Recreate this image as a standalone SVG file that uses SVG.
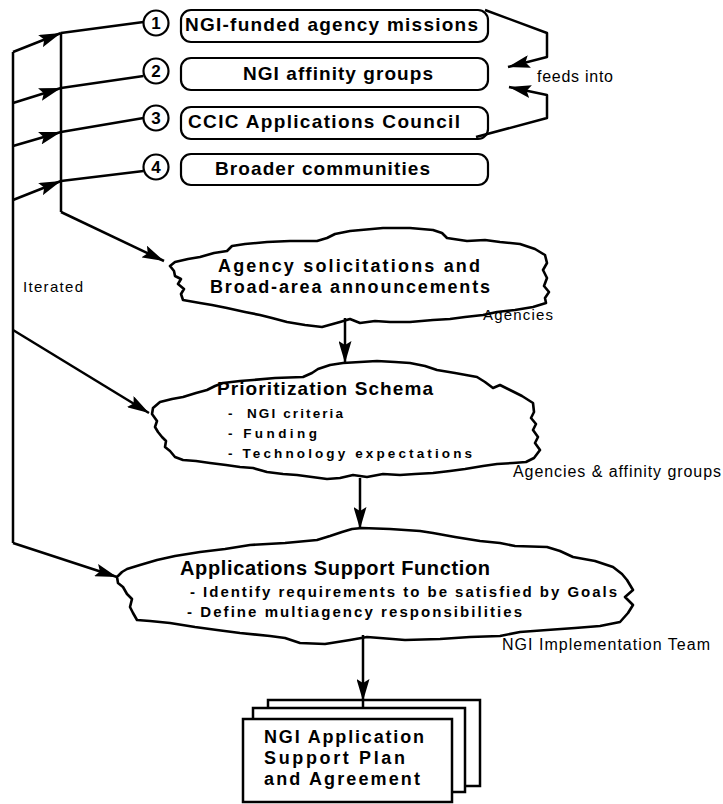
<svg xmlns="http://www.w3.org/2000/svg" width="723" height="804" viewBox="0 0 723 804">
<style>
.ln{fill:none;stroke:#000;stroke-width:2.5;stroke-linejoin:round}
.ar{marker-end:url(#ah)}
.box{fill:#fff;stroke:#000;stroke-width:2.2}
.cloud{fill:#fff;stroke:#000;stroke-width:2.6;stroke-linejoin:round}
.doc{fill:#fff;stroke:#000;stroke-width:2.5}
.b{font-family:"Liberation Sans",Arial,sans-serif;font-weight:bold;fill:#000}
.n{font-family:"Liberation Sans",Arial,sans-serif;fill:#000}
</style>
<defs>
<marker id="ah" markerUnits="userSpaceOnUse" markerWidth="24" markerHeight="13" refX="22" refY="6.5" orient="auto">
<path d="M0,0 L22,6.5 L0,13 L4,6.5 Z" fill="#000"/>
</marker>
</defs>
<rect width="723" height="804" fill="#fff"/>

<g id="node-1">
<circle cx="156" cy="23" r="12.5" class="box"/>
<text x="156" y="29" class="b" font-size="17" text-anchor="middle">1</text>
<rect x="181" y="10" width="307" height="32" rx="10" class="box"/>
<text x="185" y="31" class="b" font-size="19" textLength="293" lengthAdjust="spacing">NGI-funded agency missions</text>
</g>
<g id="node-2">
<circle cx="156" cy="71" r="12.5" class="box"/>
<text x="156" y="77" class="b" font-size="17" text-anchor="middle">2</text>
<rect x="181" y="58" width="307" height="32" rx="10" class="box"/>
<text x="243" y="80" class="b" font-size="19" textLength="190" lengthAdjust="spacing">NGI affinity groups</text>
</g>
<g id="node-3">
<circle cx="156" cy="118" r="12.5" class="box"/>
<text x="156" y="124" class="b" font-size="17" text-anchor="middle">3</text>
<rect x="181" y="107" width="307" height="32" rx="10" class="box"/>
<text x="188" y="128" class="b" font-size="19" textLength="272" lengthAdjust="spacing">CCIC Applications Council</text>
</g>
<g id="node-4">
<circle cx="156" cy="167" r="12.5" class="box"/>
<text x="156" y="173" class="b" font-size="17" text-anchor="middle">4</text>
<rect x="181" y="154" width="307" height="31" rx="10" class="box"/>
<text x="215" y="175" class="b" font-size="19" textLength="215" lengthAdjust="spacing">Broader communities</text>
</g>

<g id="cloud-solicitations">
<path class="cloud" d="M170,266 L175,262 L188,259 L200,257 L214,253 L227,251 L232,246 L245,244 L267,242 L290,241 L317,241 L327,238 L335,234 L350,231 L383,228 L410,228 L433,230 L442,233 L447,238 L467,241 L485,240 L500,242 L520,244 L535,249 L545,255 L547,263 L543,270 L547,278 L544,286 L549,292 L545,298 L546,303 L533,307 L515,310 L497,312 L483,315 L465,317 L450,319 L433,320 L410,322 L390,322 L375,321 L360,323 L350,319 L340,322 L322,327 L305,325 L287,322 L272,318 L260,315 L245,312 L227,308 L212,305 L200,303 L183,300 L181,294 L184,289 L178,284 L181,279 L175,276 L174,271 Z"/>
<text x="218" y="272" class="b" font-size="18" textLength="262" lengthAdjust="spacing">Agency solicitations and</text>
<text x="210" y="293" class="b" font-size="18" textLength="280" lengthAdjust="spacing">Broad-area announcements</text>
</g>

<g id="cloud-prioritization">
<path class="cloud" d="M152,414 L153,408 L160,402 L172,399 L183,397 L196,393 L207,390 L215,386 L223,383 L240,381 L253,380 L275,378 L303,377 L312,373 L318,369 L330,365 L343,363 L360,362 L377,361 L395,362 L410,363 L425,366 L437,370 L455,373 L477,377 L485,382 L493,388 L500,385 L510,390 L522,396 L533,403 L534,412 L531,418 L536,424 L533,430 L538,437 L535,443 L540,450 L534,458 L526,462 L513,463 L497,464 L483,466 L465,469 L450,471 L433,473 L415,474 L400,475 L383,474 L367,477 L353,475 L340,478 L327,479 L312,477 L297,475 L283,474 L267,472 L253,468 L240,467 L226,465 L210,463 L196,461 L183,460 L175,457 L170,451 L165,447 L166,441 L162,437 L158,432 L155,427 L157,421 Z"/>
<text x="217" y="395" class="b" font-size="19" textLength="216" lengthAdjust="spacing">Prioritization Schema</text>
<text x="228" y="418" class="b" font-size="13.5">-</text>
<text x="247" y="418" class="b" font-size="13.5" textLength="96" lengthAdjust="spacing">NGI criteria</text>
<text x="228" y="438" class="b" font-size="13.5" textLength="89" lengthAdjust="spacing">- Funding</text>
<text x="228" y="458" class="b" font-size="13.5" textLength="244" lengthAdjust="spacing">- Technology expectations</text>
</g>

<g id="cloud-support">
<path class="cloud" d="M117,577 L122,572 L127,569 L140,565 L157,560 L175,556 L200,552 L225,549 L250,545 L285,543 L317,540 L330,536 L342,532 L352,529 L362,528 L390,529 L420,531 L433,533 L455,537 L480,541 L500,543 L515,546 L547,547 L560,551 L573,557 L595,561 L613,567 L622,574 L627,580 L633,590 L625,597 L633,605 L628,613 L620,622 L600,626 L575,628 L547,630 L520,632 L500,636 L470,637 L440,639 L405,640 L380,638 L367,637 L350,640 L325,644 L300,643 L285,638 L270,636 L240,633 L217,630 L195,627 L170,623 L150,621 L137,620 L133,613 L130,607 L132,599 L127,594 L123,587 L118,583 Z"/>
<text x="180" y="575" class="b" font-size="20" textLength="310" lengthAdjust="spacing">Applications Support Function</text>
<text x="190" y="597" class="b" font-size="15" textLength="427" lengthAdjust="spacing">- Identify requirements to be satisfied by Goals</text>
<text x="187" y="617" class="b" font-size="15" textLength="335" lengthAdjust="spacing">- Define multiagency responsibilities</text>
</g>

<g id="doc-plan">
<rect x="268" y="700" width="212" height="86" class="doc"/>
<rect x="253" y="708" width="212" height="84" class="doc"/>
<rect x="243" y="719" width="209" height="83" class="doc"/>
<text x="264" y="743" class="b" font-size="18" textLength="160" lengthAdjust="spacing">NGI Application</text>
<text x="264" y="764" class="b" font-size="18" textLength="141" lengthAdjust="spacing">Support Plan</text>
<text x="264" y="785" class="b" font-size="18" textLength="156" lengthAdjust="spacing">and Agreement</text>
</g>

<g id="labels">
<text x="537" y="82" class="n" font-size="16" textLength="76" lengthAdjust="spacing">feeds into</text>
<text x="23" y="292" class="n" font-size="15" textLength="60" lengthAdjust="spacing">Iterated</text>
<text x="483" y="320" class="n" font-size="15" textLength="70" lengthAdjust="spacing">Agencies</text>
<text x="513" y="477" class="n" font-size="16" textLength="208" lengthAdjust="spacing">Agencies &amp; affinity groups</text>
<text x="502" y="650" class="n" font-size="16" textLength="208" lengthAdjust="spacing">NGI Implementation Team</text>
</g>

<g id="connectors">
<polyline class="ln" points="13,52 13,543"/>
<polyline class="ln" points="61,33 61,212"/>
<line class="ln ar" x1="13" y1="52" x2="61" y2="33"/>
<line class="ln ar" x1="13" y1="103" x2="61" y2="88"/>
<line class="ln ar" x1="13" y1="146" x2="61" y2="132"/>
<line class="ln ar" x1="13" y1="200" x2="61" y2="181"/>
<line class="ln" x1="61" y1="33" x2="143.5" y2="22"/>
<line class="ln" x1="61" y1="88" x2="143.5" y2="76"/>
<line class="ln" x1="61" y1="132" x2="143.5" y2="118"/>
<line class="ln" x1="61" y1="181" x2="143.5" y2="171"/>
<line class="ln ar" x1="61" y1="212" x2="164" y2="261"/>
<line class="ln ar" x1="13" y1="330" x2="149" y2="413"/>
<line class="ln ar" x1="13" y1="543" x2="117" y2="577"/>
<line class="ln ar" x1="345" y1="318" x2="345" y2="363"/>
<line class="ln ar" x1="360" y1="478" x2="360" y2="529"/>
<line class="ln ar" x1="363" y1="635" x2="363" y2="701"/>
<line class="ln" x1="363" y1="700" x2="363" y2="708"/>
<polyline class="ln ar" points="485,10 547,33 547,57 508,67"/>
<polyline class="ln ar" points="476,137 547,118 547,95 509,87"/>
</g>
</svg>
